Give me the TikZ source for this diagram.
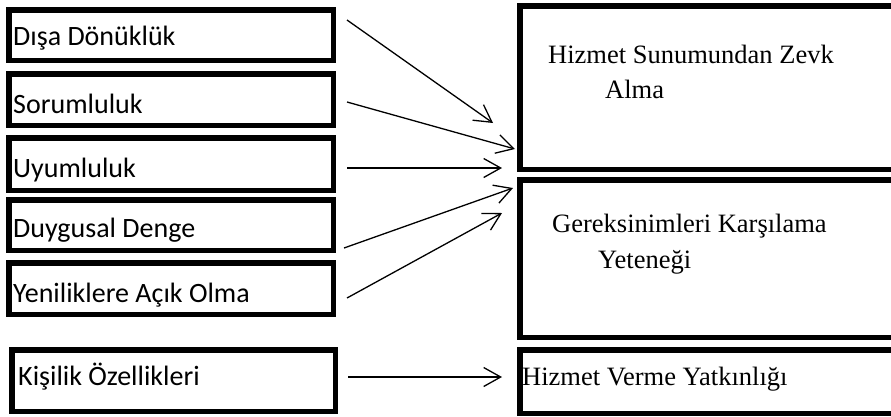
\documentclass[tikz,border=0pt]{standalone}
\usepackage{fontspec}
\usetikzlibrary{arrows.meta}
\newfontfamily\labelsans{Carlito}
\newfontfamily\labelserif{Liberation Serif}
\tikzset{
  frame/.style={draw=black, line width=5.5pt, rectangle, inner sep=0pt, outer sep=0pt},
  traitlabel/.style={anchor=base west, inner sep=0pt, font=\labelsans\fontsize{28}{32}\selectfont},
  outlabel/.style={anchor=base west, inner sep=0pt, font=\labelserif\fontsize{26.5}{30}\selectfont},
  link/.style={line width=1.3pt, -{Straight Barb[length=17pt, width=19pt, line width=1.3pt]}},
}
\begin{document}
\begin{tikzpicture}[x=1pt, y=-1pt]
\useasboundingbox (0,0) rectangle (891,416);
\clip (0,0) rectangle (891,416);
\fill[white] (0,0) rectangle (891,416);

% personality trait boxes (left column)
\node[frame, minimum width=324.5pt, minimum height=50.5pt] (b1) at (171,35) {};
\node[frame, minimum width=324.5pt, minimum height=51.5pt] (b2) at (171,99.5) {};
\node[frame, minimum width=324.5pt, minimum height=52.5pt] (b3) at (171,164) {};
\node[frame, minimum width=324.5pt, minimum height=50.5pt] (b4) at (171,225) {};
\node[frame, minimum width=324.5pt, minimum height=51.5pt] (b5) at (171,288.5) {};
\node[frame, minimum width=323.5pt, minimum height=61.5pt] (bk) at (173.5,380.5) {};

% outcome boxes (right column, running off the page edge)
\node[frame, minimum width=382.5pt, minimum height=163.5pt] (ra) at (711,87.5) {};
\node[frame, minimum width=382.5pt, minimum height=157.5pt] (rb) at (711,258.5) {};
\node[frame, minimum width=382.5pt, minimum height=63.5pt] (rc) at (711,381.5) {};

% labels
\node[traitlabel] (t1) at (13,45) {Dışa Dönüklük};
\node[traitlabel] (t2) at (13,113) {Sorumluluk};
\node[traitlabel] (t3) at (13,177) {Uyumluluk};
\node[traitlabel] (t4) at (13,237) {Duygusal Denge};
\node[traitlabel] (t5) at (13,302) {Yeniliklere Açık Olma};
\node[traitlabel] (tk) at (18,385) {Kişilik Özellikleri};

\node[outlabel] (oa1) at (548,63) {Hizmet Sunumundan Zevk};
\node[outlabel] (oa2) at (605,98) {Alma};
\node[outlabel] (ob1) at (552,232) {Gereksinimleri Karşılama};
\node[outlabel] (ob2) at (598,268) {Yeteneği};
\node[outlabel] (oc) at (522,385) {Hizmet Verme Yatkınlığı};

% arrow end points
\coordinate (s1) at (347,20);   \coordinate (e1) at (493,123);
\coordinate (s2) at (347,102);  \coordinate (e2) at (515,149);
\coordinate (s3) at (347,168);  \coordinate (e3) at (502,168);
\coordinate (s4) at (344,248);  \coordinate (e4) at (513,188);
\coordinate (s5) at (347,298);  \coordinate (e5) at (502,213);
\coordinate (sk) at (348,377);  \coordinate (ek) at (502,377);

\draw[link] (s1) -- (e1);
\draw[link] (s2) -- (e2);
\draw[link] (s3) -- (e3);
\draw[link] (s4) -- (e4);
\draw[link] (s5) -- (e5);
\draw[link] (sk) -- (ek);
\end{tikzpicture}
\end{document}
